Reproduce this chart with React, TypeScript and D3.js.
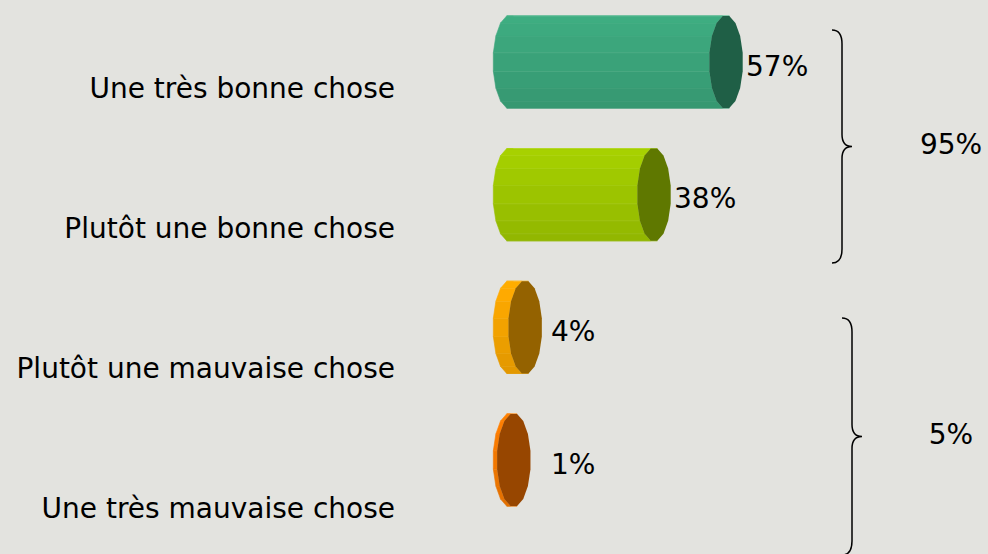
import React, { useRef, useEffect } from 'react';
import { select, scaleLinear, scalePoint, color, range, line } from 'd3';

const categories = [
  'Une très bonne chose',
  'Plutôt une bonne chose',
  'Plutôt une mauvaise chose',
  'Une très mauvaise chose',
];
const values = [57, 38, 4, 1];
const bodyColors = ['#3aa279', '#9cc400', '#f2a200', '#f27800'];
const capColors = ['#1f5f46', '#5f7800', '#946200', '#974600'];
const groupLabels = ['95%', '5%'];
const groupMembers = [[0, 1], [2, 3]];

const width = 988;
const height = 554;
const font = "'DejaVu Sans', Tahoma, sans-serif";

function App() {
  const rootRef = useRef<SVGSVGElement>(null);

  useEffect(() => {
    const root = select(rootRef.current);
    root.selectAll('*').remove();

    root.append('rect')
      .attr('width', width)
      .attr('height', height)
      .attr('fill', '#e3e3df');

    const x = scaleLinear().domain([0, 100]).range([510, 889]);
    const y = scalePoint().domain(categories).range([62, 460]);      // bar centres
    const yLabel = scalePoint().domain(categories).range([88, 508]); // category text
    const rx = 17;
    const ry = 47;
    const n = 16;

    const ring = (cx: number, cy: number) =>
      range(n).map(k => {
        const a = ((k + 0.5) / n) * 2 * Math.PI;
        return [cx + rx * Math.cos(a), cy + ry * Math.sin(a)] as [number, number];
      });

    const poly = line();

    const bars = root.selectAll('g.bar')
      .data(values)
      .enter().append('g')
      .attr('class', 'bar');

    bars.each(function (v: number, i: number) {
      const g = select(this);
      const cy = y(categories[i]) as number;
      const x0 = x(0);
      const x1 = x(v);
      const back = ring(x0, cy);
      const front = ring(x1, cy);

      // side facets of the cylinder (left half of the ring)
      for (let k = 0; k < n; k++) {
        const mid = ((k + 1) / n) * 2 * Math.PI;
        if (Math.cos(mid) > 1e-6) continue;
        const k2 = (k + 1) % n;
        const t = (Math.sin(mid) + 1) / 2;
        const c = color(bodyColors[i])!.brighter(0.2 - 0.4 * t).toString();
        g.append('path')
          .attr('d', poly([back[k], front[k], front[k2], back[k2]]) + 'Z')
          .attr('fill', c)
          .attr('stroke', c)
          .attr('stroke-width', 0.6);
        g.append('path')
          .attr('d', poly([back[k2], front[k2]]))
          .attr('stroke', '#ffffff')
          .attr('stroke-opacity', 0.15)
          .attr('stroke-width', 0.8)
          .attr('fill', 'none');
      }

      g.append('path')
        .attr('d', poly(front) + 'Z')
        .attr('fill', capColors[i]);

      g.append('text')
        .attr('x', Math.max(x1 + rx + 3, x0 + 41))
        .attr('y', cy + 4)
        .attr('dy', '0.35em')
        .attr('font-family', font)
        .attr('font-size', 28)
        .attr('fill', '#000')
        .text(v + '%');
    });

    root.append('g')
      .selectAll('text')
      .data(categories)
      .enter().append('text')
      .attr('x', 395)
      .attr('y', d => yLabel(d) as number)
      .attr('dy', '0.35em')
      .attr('text-anchor', 'end')
      .attr('font-family', font)
      .attr('font-size', 28)
      .attr('fill', '#000')
      .text(d => d);

    // curly braces for the grouped totals
    const braceX = [842, 852];
    const braceTop = [-58, -50];
    const braceBot = [35, 47];
    groupMembers.forEach((m, gi) => {
      const top = (yLabel(categories[m[0]]) as number) + braceTop[gi];
      const bot = (yLabel(categories[m[m.length - 1]]) as number) + braceBot[gi];
      const mid = (top + bot) / 2;
      const bx = braceX[gi];
      const d = `M${bx - 10},${top} Q${bx},${top} ${bx},${top + 14}`
        + ` L${bx},${mid - 12} Q${bx},${mid} ${bx + 10},${mid}`
        + ` Q${bx},${mid} ${bx},${mid + 12}`
        + ` L${bx},${bot - 14} Q${bx},${bot} ${bx - 10},${bot}`;
      root.append('path')
        .attr('d', d)
        .attr('fill', 'none')
        .attr('stroke', '#000')
        .attr('stroke-width', 1.5);
      root.append('text')
        .attr('x', 951)
        .attr('y', mid - 2)
        .attr('dy', '0.35em')
        .attr('text-anchor', 'middle')
        .attr('font-family', font)
        .attr('font-size', 28)
        .attr('fill', '#000')
        .text(groupLabels[gi]);
    });
  });

  return (
    <svg
      ref={rootRef}
      width={width}
      height={height}
      style={{ position: 'absolute', left: 0, top: 0, display: 'block' }}
    ></svg>
  );
}

export default App;
